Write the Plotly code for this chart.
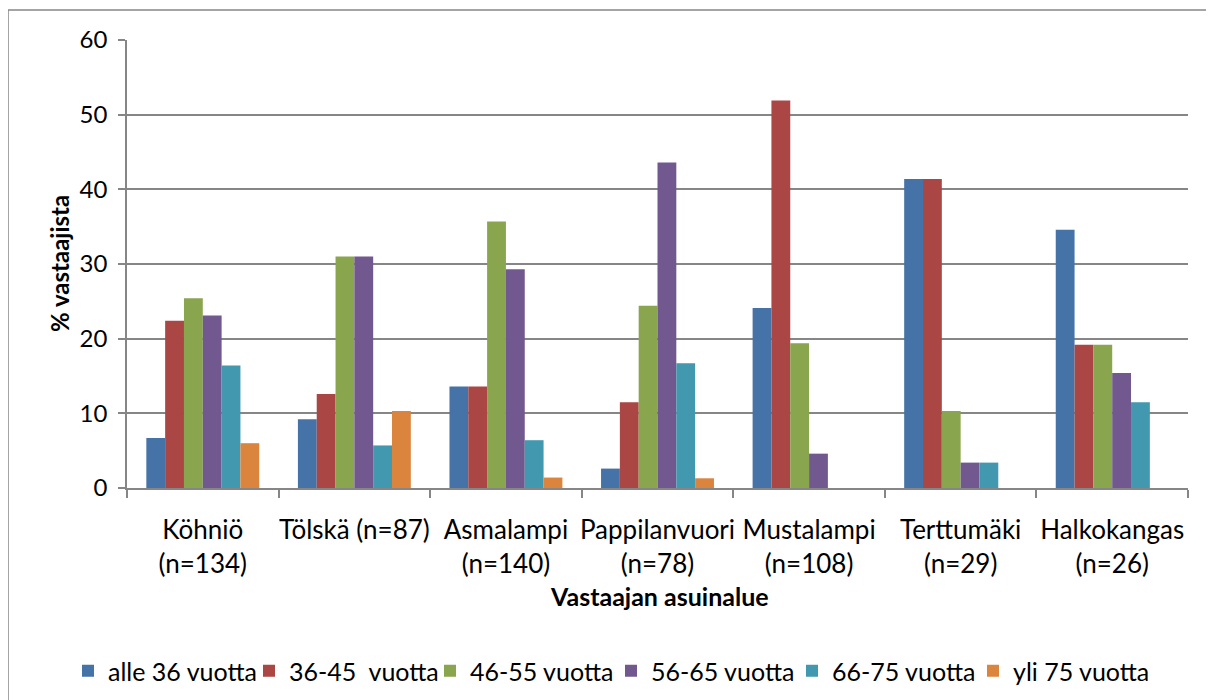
import plotly.graph_objects as go

categories = ["Köhniö<br>(n=134)", "Tölskä (n=87)", "Asmalampi<br>(n=140)",
              "Pappilanvuori<br>(n=78)", "Mustalampi<br>(n=108)",
              "Terttumäki<br>(n=29)", "Halkokangas<br>(n=26)"]

series_names = ["alle 36 vuotta", "36-45  vuotta", "46-55 vuotta",
                "56-65 vuotta", "66-75 vuotta", "yli 75 vuotta"]

alle_36 = [6.7, 9.2, 13.6, 2.6, 24.1, 41.4, 34.6]
v36_45 = [22.4, 12.6, 13.6, 11.5, 51.9, 41.4, 19.2]
v46_55 = [25.4, 31.0, 35.7, 24.4, 19.4, 10.3, 19.2]
v56_65 = [23.1, 31.0, 29.3, 43.6, 4.6, 3.4, 15.4]
v66_75 = [16.4, 5.7, 6.4, 16.7, 0.0, 3.4, 11.5]
yli_75 = [6.0, 10.3, 1.4, 1.3, 0.0, 0.0, 0.0]

series_values = [alle_36, v36_45, v46_55, v56_65, v66_75, yli_75]
colors = ["#4572A7", "#AA4643", "#89A54E", "#71588F", "#4198AF", "#DB843D"]

y_ticks = [0, 10, 20, 30, 40, 50, 60]

FONT = "Lato"
GRID = "#868686"

fig = go.Figure()
for name, vals, col in zip(series_names, series_values, colors):
    fig.add_trace(go.Bar(
        x=categories, y=vals, name=name,
        marker=dict(color=col, line=dict(width=0)),
    ))

# page body has an 8px offset
OFF = 8
W, H = 1214, 700
ML, MT = 127 - OFF, 40 - OFF
PW, PH = 1061, 448
MR = W - ML - PW
MB = H - MT - PH

def px_x(x):
    return (x - OFF - ML) / PW

def px_y(y):
    return (H - MB - (y - OFF)) / PH

fig.update_layout(
    width=W, height=H,
    margin=dict(l=ML, r=MR, t=MT, b=MB, autoexpand=False),
    paper_bgcolor="white", plot_bgcolor="white",
    barmode="group", bargap=0.255, bargroupgap=0,
    font=dict(family=FONT, size=24, color="#000000"),
    showlegend=True,
    legend=dict(orientation="h", xref="paper", yref="paper",
                x=px_x(68), xanchor="left",
                y=px_y(648), yanchor="top",
                font=dict(family=FONT, size=25, color="#000000"),
                traceorder="normal", itemwidth=30,
                entrywidth=136, entrywidthmode="pixels"),
    xaxis=dict(
        type="category", automargin=False,
        showline=True, linecolor=GRID, linewidth=1.5,
        ticks="outside", tickson="boundaries", ticklen=8, tickcolor=GRID, tickwidth=1.5,
        showgrid=False, ticklabelstandoff=18, tickangle=0,
        tickfont=dict(family=FONT, size=26, color="#000000"),
    ),
    yaxis=dict(
        automargin=False,
        range=[0, 60], tickvals=y_ticks, ticktext=[str(v) for v in y_ticks],
        showline=True, linecolor=GRID, linewidth=1.5,
        ticks="outside", ticklen=7, tickcolor=GRID, tickwidth=1.5,
        showgrid=True, gridcolor=GRID, gridwidth=1.5, zeroline=False,
        tickfont=dict(family=FONT, size=24, color="#000000"),
        ticklabelstandoff=6,
    ),
    annotations=[
        dict(text="<b>Vastaajan asuinalue</b>", xref="paper", yref="paper",
             x=px_x(659), y=px_y(596), xanchor="center", yanchor="middle",
             showarrow=False, font=dict(family=FONT, size=25, color="#000000")),
        dict(text="<b>% vastaajista</b>", xref="paper", yref="paper",
             x=px_x(59), y=px_y(264), xanchor="center", yanchor="middle",
             textangle=-90,
             showarrow=False, font=dict(family=FONT, size=24, color="#000000")),
    ],
    shapes=[dict(type="rect", xref="paper", yref="paper",
                 x0=px_x(8), x1=px_x(1240), y0=px_y(730), y1=px_y(10),
                 line=dict(color=GRID, width=1.5), layer="below")],
)

fig.write_html("out.html")
